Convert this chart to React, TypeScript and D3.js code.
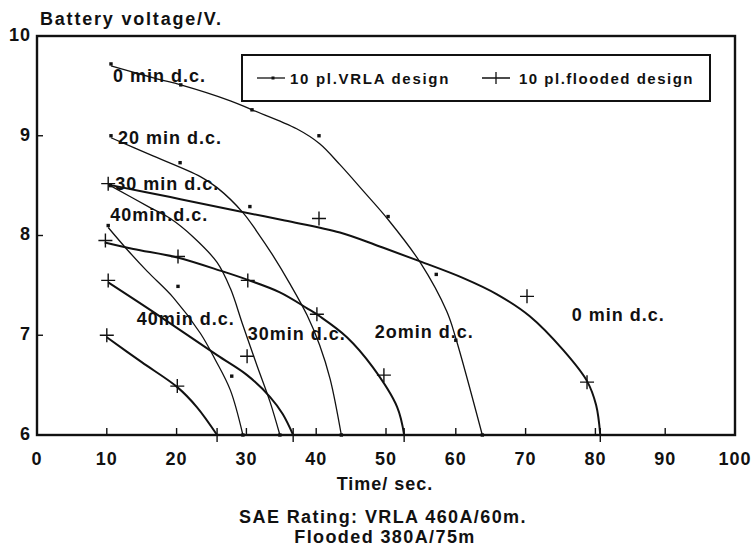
import { curveCatmullRom, line, scaleLinear } from "d3";
import { useMemo } from "react";

type Pt = [number, number];

// x axis / y axis ticks
const xTicks = [0, 10, 20, 30, 40, 50, 60, 70, 80, 90, 100];
const yTicks = [6, 7, 8, 9, 10];

// 10 pl. VRLA design (thin line, dot markers) - fitted curves
const vrla0Curve: Pt[] = [
  [10.6, 9.7], [17.2, 9.57], [20.6, 9.51], [27.7, 9.35], [30.8, 9.26], [37.2, 9.07],
  [40.5, 8.92], [43.4, 8.71], [46.7, 8.45], [50.3, 8.16], [54.9, 7.73], [58.7, 7.24],
  [60.0, 6.97], [63.8, 6.0]
];
const vrla20Curve: Pt[] = [
  [10.6, 8.98], [16.2, 8.81], [23.4, 8.59], [25.8, 8.48], [29.5, 8.23], [31.5, 8.04],
  [33.7, 7.81], [36.2, 7.52], [38.7, 7.2], [40.5, 6.9], [42.0, 6.56], [43.6, 6.0]
];
const vrla30Curve: Pt[] = [
  [10.5, 8.5], [16.2, 8.28], [19.1, 8.17], [22.3, 7.99], [25.8, 7.73], [27.7, 7.47],
  [29.5, 7.1], [31.5, 6.7], [33.4, 6.33], [34.8, 6.0]
];
const vrla40Curve: Pt[] = [
  [10.2, 8.08], [12.9, 7.86], [15.8, 7.64], [19.5, 7.38], [23.4, 7.02], [25.5, 6.76],
  [27.7, 6.45], [29.5, 6.0]
];

// measured VRLA points
const vrla0Points: Pt[] = [
  [10.6, 9.72], [20.6, 9.51], [30.8, 9.26], [40.4, 9.0], [50.3, 8.19], [57.2, 7.61],
  [60.0, 6.95], [63.8, 6.0]
];
const vrla20Points: Pt[] = [[10.6, 9.0], [20.5, 8.73], [30.5, 8.29], [43.6, 6.0]];
const vrla30Points: Pt[] = [[10.5, 8.5], [34.8, 6.0]];
const vrla40Points: Pt[] = [[10.2, 8.1], [20.2, 7.49], [27.9, 6.59], [29.5, 6.0]];

// 10 pl. flooded design (thick line, plus markers)
const flooded0Curve: Pt[] = [
  [10.2, 8.51], [19.1, 8.385], [27.7, 8.26], [35.5, 8.15], [43.4, 8.03], [49.1, 7.89],
  [54.9, 7.74], [61.0, 7.575], [65.9, 7.41], [70.6, 7.19], [75.4, 6.85], [78.8, 6.54],
  [80.1, 6.3], [80.7, 6.0]
];
const flooded20Curve: Pt[] = [
  [9.7, 7.93], [13.8, 7.865], [20.1, 7.78], [26.6, 7.64], [30.2, 7.555], [34.8, 7.43],
  [38.7, 7.27], [40.5, 7.19], [44.4, 6.98], [48.1, 6.68], [51.6, 6.28], [52.6, 6.0]
];
const flooded30Curve: Pt[] = [
  [10.2, 7.53], [17.6, 7.19], [25.8, 6.8], [30.1, 6.6], [33.4, 6.38], [35.2, 6.21],
  [36.7, 6.0]
];
const flooded40Curve: Pt[] = [
  [10.0, 6.98], [15.0, 6.73], [20.1, 6.48], [22.9, 6.28], [25.8, 6.0]
];

const flooded0Points: Pt[] = [[10.2, 8.52], [40.4, 8.17], [70.2, 7.39], [78.8, 6.53], [80.7, 6.0]];
const flooded20Points: Pt[] = [
  [9.8, 7.95], [20.2, 7.79], [30.2, 7.55], [40.1, 7.21], [49.7, 6.6], [52.6, 6.0]
];
const flooded30Points: Pt[] = [[10.2, 7.55], [30.1, 6.79], [36.7, 6.0]];
const flooded40Points: Pt[] = [[10.0, 7.0], [20.1, 6.49], [25.8, 6.0]];

// in-plot annotations, anchored at [time, voltage] of text start/baseline
const labelTexts = [
  "0 min d.c.", "20 min d.c.", "30 min d.c.", "40min.d.c.",
  "40min d.c.", "30min d.c.", "2omin d.c.", "0 min d.c."
];
const labelAnchors: Pt[] = [
  [10.9, 9.54], [11.6, 8.92], [11.2, 8.46], [10.5, 8.15],
  [14.3, 7.1], [30.2, 6.95], [48.4, 6.97], [76.6, 7.14]
];

const legendLabels = ["10 pl.VRLA design", "10 pl.flooded design"];

const width = 752;
const height = 547;
const plotLeft = 37;
const plotRight = 735;
const plotTop = 36;
const plotBottom = 435;
const font = "'Liberation Sans', Arial, sans-serif";

function App() {
  const xScale = useMemo(
    () => scaleLinear().domain([0, 100]).range([plotLeft, plotRight]),
    []
  );
  const yScale = useMemo(
    () => scaleLinear().domain([6, 10]).range([plotBottom, plotTop]),
    []
  );
  const pathOf = useMemo(() => {
    const builder = line<Pt>()
      .x((d) => xScale(d[0]))
      .y((d) => yScale(d[1]))
      .curve(curveCatmullRom.alpha(0.5));
    return (pts: Pt[]) => builder(pts) ?? "";
  }, [xScale, yScale]);

  const vrlaCurves = [vrla0Curve, vrla20Curve, vrla30Curve, vrla40Curve];
  const floodedCurves = [flooded0Curve, flooded20Curve, flooded30Curve, flooded40Curve];
  const vrlaPoints = [vrla0Points, vrla20Points, vrla30Points, vrla40Points].flat();
  const floodedPoints = [flooded0Points, flooded20Points, flooded30Points, flooded40Points].flat();

  const plus = (x: number, y: number, r = 7) => `M${x - r},${y}H${x + r}M${x},${y - r}V${y + r}`;

  return (
    <div style={{ position: "absolute", left: 0, top: 0, background: "#fff" }}>
      <svg width={width} height={height} style={{ display: "block" }} fontFamily={font}>
        <rect x={0} y={0} width={width} height={height} fill="#fff" />

        <text x={40} y={25} fontSize={18} fontWeight="bold" letterSpacing={1.8} fill="#111">
          Battery voltage/V.
        </text>

        {/* frame */}
        <rect
          x={xScale(0)}
          y={yScale(10)}
          width={xScale(100) - xScale(0)}
          height={yScale(6) - yScale(10)}
          fill="none"
          stroke="#111"
          strokeWidth={2.4}
        />

        {/* y ticks */}
        {yTicks.map((t) => (
          <g key={`y${t}`}>
            <line x1={xScale(0)} x2={xScale(0) + 6} y1={yScale(t)} y2={yScale(t)} stroke="#111" strokeWidth={1.4} />
            <text
              x={31}
              y={yScale(t)}
              textAnchor="end"
              dominantBaseline="middle"
              fontSize={18}
              fontWeight="bold"
              letterSpacing={1}
              fill="#111"
            >
              {t}
            </text>
          </g>
        ))}

        {/* x ticks */}
        {xTicks.map((t) => (
          <g key={`x${t}`}>
            <line x1={xScale(t)} x2={xScale(t)} y1={yScale(6)} y2={yScale(6) - 7} stroke="#111" strokeWidth={1.4} />
            <text
              x={xScale(t)}
              y={yScale(6) + 30}
              textAnchor="middle"
              fontSize={18}
              fontWeight="bold"
              letterSpacing={1}
              fill="#111"
            >
              {t}
            </text>
          </g>
        ))}

        {/* legend */}
        <rect x={242} y={55} width={468} height={46} fill="#fff" stroke="#111" strokeWidth={2} />
        <line x1={257} x2={285} y1={78} y2={78} stroke="#111" strokeWidth={1.3} />
        <rect x={271.5} y={76.5} width={3} height={3} fill="#111" />
        <text x={290} y={84} fontSize={15} fontWeight="bold" letterSpacing={1.7} fill="#111">
          {legendLabels[0]}
        </text>
        <path d={plus(496, 78, 6) + "M482,78H510"} stroke="#111" strokeWidth={1.3} fill="none" />
        <text x={519} y={84} fontSize={15} fontWeight="bold" letterSpacing={1.5} fill="#111">
          {legendLabels[1]}
        </text>

        {/* curves */}
        {vrlaCurves.map((c, i) => (
          <path key={`vc${i}`} d={pathOf(c)} fill="none" stroke="#111" strokeWidth={1.3} />
        ))}
        {floodedCurves.map((c, i) => (
          <path key={`fc${i}`} d={pathOf(c)} fill="none" stroke="#111" strokeWidth={2} />
        ))}

        {/* markers */}
        {vrlaPoints.map((p, i) => (
          <rect
            key={`vp${i}`}
            x={xScale(p[0]) - 1.7}
            y={yScale(p[1]) - 1.7}
            width={3.4}
            height={3.4}
            fill="#111"
          />
        ))}
        {floodedPoints.map((p, i) => (
          <path key={`fp${i}`} d={plus(xScale(p[0]), yScale(p[1]))} stroke="#111" strokeWidth={1.4} fill="none" />
        ))}

        {/* annotations */}
        {labelTexts.map((t, i) => (
          <text
            key={`l${i}`}
            x={xScale(labelAnchors[i][0])}
            y={yScale(labelAnchors[i][1])}
            fontSize={18}
            fontWeight="bold"
            letterSpacing={1}
            fill="#111"
          >
            {t}
          </text>
        ))}

        {/* captions */}
        <text x={385} y={490} textAnchor="middle" fontSize={18} fontWeight="bold" letterSpacing={1} fill="#111">
          Time/ sec.
        </text>
        <text x={383} y={523} textAnchor="middle" fontSize={18} fontWeight="bold" letterSpacing={1.4} fill="#111">
          SAE Rating: VRLA 460A/60m.
        </text>
        <text x={385} y={543} textAnchor="middle" fontSize={18} fontWeight="bold" letterSpacing={1.4} fill="#111">
          Flooded 380A/75m
        </text>
      </svg>
    </div>
  );
}

export default App;
